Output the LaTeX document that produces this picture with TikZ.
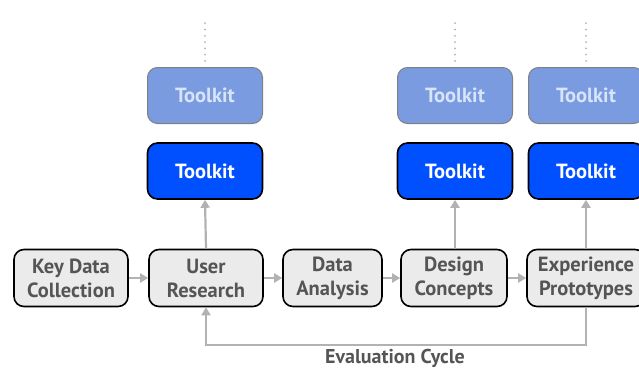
\documentclass[tikz,border=0pt]{standalone}
\usepackage{fontspec}
\setmainfont{PT Sans}
\usetikzlibrary{arrows.meta, positioning}
\definecolor{cStep}{RGB}{235,235,235}
\definecolor{cText}{RGB}{85,85,85}
\definecolor{cTool}{RGB}{0,80,255}
\definecolor{cToolOld}{RGB}{122,155,224}
\definecolor{cToolTxt}{RGB}{215,228,250}
\definecolor{cLine}{RGB}{178,178,178}
\tikzset{
	stepbox/.style ={rectangle, rounded corners=10pt, minimum height=57pt, inner sep=2pt, align=center, draw=black, line width=1.6pt, fill=cStep, text=cText, font=\bfseries\fontsize{20.5}{24}\selectfont},
	toolbox/.style ={rectangle, rounded corners=10pt, minimum width=115pt, minimum height=56pt, align=center, draw=black, line width=1.6pt, fill=cTool, text=white, font=\bfseries\fontsize{20.5}{24}\selectfont},
	oldtool/.style ={toolbox, draw=gray, line width=1pt, fill=cToolOld, text=cToolTxt},
	flow/.style    ={-{Triangle[length=8pt, width=9pt]}, cLine, line width=2.2pt},
	trail/.style   ={cLine, line width=2pt, line cap=round, dash pattern=on 0pt off 6.3pt},
}
\begin{document}
\begin{tikzpicture}[x=1pt, y=1pt]
	\useasboundingbox (0,0) rectangle (639,368);
	\clip (0,0) rectangle (639,368);
	% process steps
	\node[stepbox, minimum width=114pt] (kdc) at (71,90) {Key Data\\Collection};
	\node[stepbox, minimum width=114pt] (ur) at (206,90) {User\\Research};
	\node[stepbox, minimum width=99pt] (da) at (332.5,90) {Data\\Analysis};
	\node[stepbox, minimum width=106pt] (dc) at (454,90) {Design\\Concepts};
	\node[stepbox, minimum width=118pt] (ep) at (586,90) {Experience\\Prototypes};
	% toolkits
	\foreach \n/\x in {ur/205, dc/455, ep/586} {
		\node[toolbox] (tk\n) at (\x,197) {Toolkit};
		\node[oldtool] (tko\n) at (\x,272.5) {Toolkit};
		\coordinate (top\n) at (\x,351);
		\draw[trail] ([yshift=6pt]tko\n.north) -- (top\n);
	}
	\draw[flow] (kdc) -- (ur);
	\draw[flow] (ur) -- (da);
	\draw[flow] (da) -- (dc);
	\draw[flow] (dc) -- (ep);
	\draw[flow] (ur.north) -- (tkur.south);
	\draw[flow] (dc.north -| tkdc) -- (tkdc.south);
	\draw[flow] (ep.north) -- (tkep.south);
	% evaluation loop
	\draw[flow] (ep.south) |- (206,23) -- (ur.south);
	\node[text=cText, font=\bfseries\fontsize{20}{24}\selectfont] (eval) at (395,10) {Evaluation Cycle};
\end{tikzpicture}
\end{document}
